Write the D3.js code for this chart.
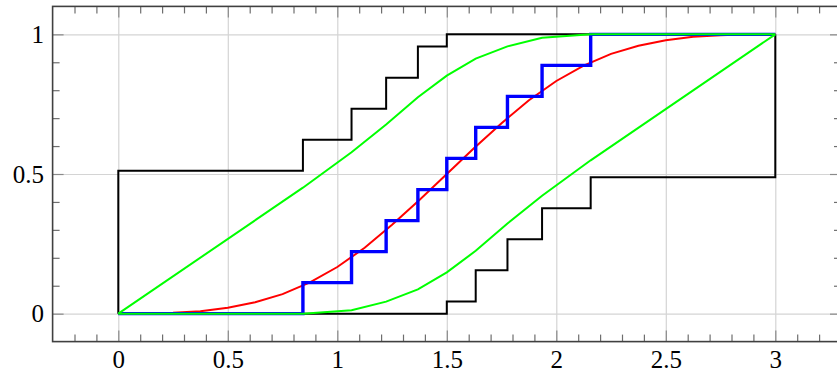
<!DOCTYPE html>
<html>
<head>
<meta charset="utf-8">
<script src="https://cdn.jsdelivr.net/npm/d3@7"></script>
<style>
    body { margin: 0; background: #fff; }
    .tickLabels text { font-family: "Liberation Serif", "DejaVu Serif", serif; font-size: 25px; fill: #000; }
</style>
</head>
<body>
<script>
//sorted sample values (x positions of the ECDF jumps)
var sampleX = [0.843, 1.065, 1.223, 1.368, 1.5, 1.632, 1.777, 1.935, 2.157];
//ECDF level after each jump
var ecdfY = [0.111, 0.222, 0.333, 0.444, 0.556, 0.667, 0.778, 0.889, 1];

//black upper band (step)
var upperBandX = [0, 0, 0.843, 1.065, 1.223, 1.368, 1.5, 3];
var upperBandY = [0, 0.512, 0.623, 0.734, 0.845, 0.956, 1, 1];
//black lower band (step)
var lowerBandX = [0, 1.5, 1.632, 1.777, 1.935, 2.157, 3, 3];
var lowerBandY = [0, 0.044, 0.155, 0.266, 0.377, 0.488, 0.488, 1];

//green pointwise bands
var greenX = [0, 0.843, 1.065, 1.223, 1.368, 1.5, 1.632, 1.777, 1.935, 2.157, 3];
var greenUpperY = [0, 0.451, 0.578, 0.677, 0.775, 0.852, 0.913, 0.957, 0.988, 1, 1];
var greenLowerY = [0, 0, 0.012, 0.043, 0.087, 0.148, 0.225, 0.323, 0.422, 0.549, 1];

//red reference cdf
var cdfX = [0, 0.125, 0.25, 0.375, 0.5, 0.625, 0.75, 0.875, 1, 1.125, 1.25, 1.375, 1.5,
            1.625, 1.75, 1.875, 2, 2.125, 2.25, 2.375, 2.5, 2.625, 2.75, 2.875, 3];
var cdfY = [0, 0, 0.003, 0.009, 0.021, 0.041, 0.070, 0.112, 0.167, 0.236, 0.318, 0.407, 0.5,
            0.593, 0.682, 0.764, 0.833, 0.888, 0.930, 0.959, 0.979, 0.991, 0.997, 1, 1];

//tick values
var xTicks = [0, 0.5, 1, 1.5, 2, 2.5, 3];
var yTicks = [0, 0.5, 1];
var xMinor = d3.range(-2, 33).map(function(i){ return i / 10; }).filter(function(v){ return Math.round(v * 10) % 5 != 0; });
var yMinor = d3.range(-0, 11).map(function(i){ return i / 10; }).filter(function(v){ return Math.round(v * 10) % 5 != 0; });

setChart();

function setChart(){
    var width = 837,
        height = 371;

    var svg = d3.select("body")
        .append("svg")
        .attr("width", width)
        .attr("height", height);

    //plot area
    var left = 52.6, right = 841, top = 6.4, bottom = 341.6;

    var x = d3.scaleLinear().domain([-0.3, 3.3]).range([left, right]);
    var y = d3.scaleLinear().domain([-0.1, 1.1]).range([bottom, top]);

    //grid lines
    svg.append("g")
        .attr("transform", "translate(0," + bottom + ")")
        .call(d3.axisBottom(x).tickValues(xTicks).tickSize(-(bottom - top)).tickFormat(""))
        .call(function(g){
            g.select(".domain").remove();
            g.selectAll("line").attr("stroke", "#d4d4d4").attr("stroke-width", 1.2);
        });
    svg.append("g")
        .attr("transform", "translate(" + left + ",0)")
        .call(d3.axisLeft(y).tickValues(yTicks).tickSize(-(right - left)).tickFormat(""))
        .call(function(g){
            g.select(".domain").remove();
            g.selectAll("line").attr("stroke", "#d4d4d4").attr("stroke-width", 1.2);
        });

    //ticks on all four sides, pointing inward
    function tickStyle(g, col){
        g.select(".domain").remove();
        g.selectAll("line").attr("stroke", col).attr("stroke-width", 1.2);
    }
    var axes = [
        [d3.axisBottom, "translate(0," + bottom + ")", x],
        [d3.axisTop, "translate(0," + top + ")", x],
        [d3.axisLeft, "translate(" + left + ",0)", y],
        [d3.axisRight, "translate(" + right + ",0)", y]
    ];
    axes.forEach(function(a){
        var minor = a[2] === x ? xMinor : yMinor,
            major = a[2] === x ? xTicks : yTicks;
        svg.append("g")
            .attr("transform", a[1])
            .call(a[0](a[2]).tickValues(minor).tickSize(-7).tickFormat(""))
            .call(tickStyle, "#6e6e6e");
        svg.append("g")
            .attr("transform", a[1])
            .call(a[0](a[2]).tickValues(major).tickSize(-11).tickFormat(""))
            .call(tickStyle, "#8a8a8a");
    });

    //tick labels
    svg.append("g")
        .attr("class", "tickLabels")
        .attr("transform", "translate(0," + bottom + ")")
        .call(d3.axisBottom(x).tickValues(xTicks).tickSize(0).tickPadding(9).tickFormat(function(d){ return d; }))
        .call(function(g){ g.select(".domain").remove(); g.selectAll("text").attr("font-family", null).attr("font-size", null); });
    svg.append("g")
        .attr("class", "tickLabels")
        .attr("transform", "translate(" + (left - 8.5) + ",0)")
        .call(d3.axisLeft(y).tickValues(yTicks).tickSize(0).tickPadding(0).tickFormat(function(d){ return d; }))
        .call(function(g){ g.select(".domain").remove(); g.selectAll("text").attr("font-family", null).attr("font-size", null).attr("dy", "0.33em"); });

    //frame
    svg.append("rect")
        .attr("x", left)
        .attr("y", top)
        .attr("width", right - left)
        .attr("height", bottom - top)
        .attr("fill", "none")
        .attr("stroke", "#404040")
        .attr("stroke-width", 1.6);

    var line = d3.line()
        .x(function(d){ return x(d[0]); })
        .y(function(d){ return y(d[1]); });
    var stepLine = d3.line()
        .x(function(d){ return x(d[0]); })
        .y(function(d){ return y(d[1]); })
        .curve(d3.curveStepAfter);

    function zip(a, b){ return a.map(function(v, i){ return [v, b[i]]; }); }

    //black bands
    [zip(upperBandX, upperBandY), zip(lowerBandX, lowerBandY)].forEach(function(pts){
        svg.append("path")
            .datum(pts)
            .attr("d", stepLine)
            .attr("fill", "none")
            .attr("stroke", "#000")
            .attr("stroke-width", 2);
    });

    //red cdf
    svg.append("path")
        .datum(zip(cdfX, cdfY))
        .attr("d", line)
        .attr("fill", "none")
        .attr("stroke", "#ff0000")
        .attr("stroke-width", 2);

    //blue ECDF
    var ecdfPts = [[0, 0]].concat(zip(sampleX, ecdfY)).concat([[3, 1]]);
    svg.append("path")
        .datum(ecdfPts)
        .attr("d", stepLine)
        .attr("fill", "none")
        .attr("stroke", "#0000ff")
        .attr("stroke-width", 3.4);

    //green bands
    [greenUpperY, greenLowerY].forEach(function(vals){
        svg.append("path")
            .datum(zip(greenX, vals))
            .attr("d", line)
            .attr("fill", "none")
            .attr("stroke", "#00ff00")
            .attr("stroke-width", 2);
    });
}
</script>
</body>
</html>
